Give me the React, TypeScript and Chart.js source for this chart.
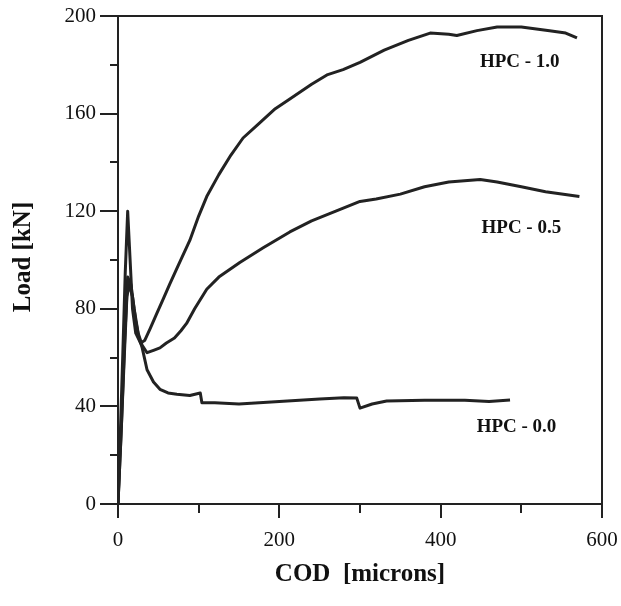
import React, { useEffect, useRef } from "react";
import { Chart, registerables } from "chart.js";

Chart.register(...registerables);

// HPC - 1.0
const cod10 = [0, 3, 6, 9, 12, 15, 18, 22, 28, 33, 40, 48, 56, 64, 75, 89, 100, 110, 125, 140, 155, 175, 195, 213, 240, 260, 279, 300, 330, 360, 387, 410, 420, 445, 470, 500, 535, 555, 569];
const load10 = [0, 30, 62, 95, 120, 100, 80, 70, 66, 67, 72, 78, 84, 90, 98, 108, 118, 126, 135, 143, 150, 156, 162, 166, 172, 176, 178, 181, 186, 190, 193, 192.5, 192, 194, 195.5, 195.5, 194, 193, 191];

// HPC - 0.5
const cod05 = [0, 4, 8, 12, 16, 20, 25, 30, 36, 44, 52, 60, 70, 78, 85, 95, 110, 125, 151, 180, 213, 240, 270, 300, 320, 350, 380, 410, 449, 470, 500, 530, 572];
const load05 = [0, 30, 65, 93, 90, 80, 70, 65, 62, 63, 64, 66, 68, 71, 74, 80, 88, 93, 99, 105, 111.5, 116, 120, 124, 125, 127, 130, 132, 133, 132, 130, 128, 126];

// HPC - 0.0
const cod00 = [0, 4, 8, 11, 14, 18, 22, 26, 30, 36, 44, 52, 62, 73, 89, 102, 104, 120, 150, 200, 250, 280, 296, 300, 315, 333, 380, 430, 460, 486];
const load00 = [0, 30, 62, 85, 90, 85, 75, 68, 64, 55, 50, 47, 45.5, 45, 44.5, 45.5, 41.5, 41.5, 41, 42, 43, 43.5, 43.4, 39.3, 41, 42.2, 42.5, 42.5, 42, 42.6];

const seriesNames = ["HPC - 1.0", "HPC - 0.5", "HPC - 0.0"];
// label anchors (data coords)
const labelX = [498, 500, 494];
const labelY = [181, 113, 31.5];

const yTicks = [0, 20, 40, 60, 80, 100, 120, 140, 160, 180, 200];
const xTicks = [0, 100, 200, 300, 400, 500, 600];

const xTitle = "COD  [microns]";
const yTitle = "Load [kN]";

const INK = "#222222";
const FONT = "'Liberation Serif', 'Times New Roman', serif";

function pts(xs: number[], ys: number[]) {
  return xs.map((x, i) => ({ x, y: ys[i] }));
}

const decorPlugin = {
  id: "decor",
  afterDraw(chart: any) {
    const { ctx, chartArea } = chart;
    const xs = chart.scales.x;
    const ys = chart.scales.y;
    const { left, right, top, bottom } = chartArea;
    ctx.save();
    ctx.strokeStyle = INK;
    ctx.lineWidth = 2;
    ctx.strokeRect(left, top, right - left, bottom - top);
    // ticks
    ctx.beginPath();
    yTicks.forEach((v) => {
      const p = Math.round(ys.getPixelForValue(v));
      const len = v % 40 === 0 ? 18 : 8;
      ctx.moveTo(left - len, p);
      ctx.lineTo(left, p);
    });
    xTicks.forEach((v) => {
      const p = Math.round(xs.getPixelForValue(v));
      const len = v % 200 === 0 ? 14 : 9;
      ctx.moveTo(p, bottom);
      ctx.lineTo(p, bottom + len);
    });
    ctx.stroke();

    // series labels
    ctx.fillStyle = "#111";
    ctx.font = `bold 19px ${FONT}`;
    ctx.textAlign = "center";
    ctx.textBaseline = "middle";
    seriesNames.forEach((n, i) => {
      ctx.fillText(n, xs.getPixelForValue(labelX[i]), ys.getPixelForValue(labelY[i]));
    });

    // axis titles
    ctx.font = `bold 25px ${FONT}`;
    ctx.fillText(xTitle, (left + right) / 2, 575);
    ctx.save();
    ctx.translate(24, (top + bottom) / 2 - 3);
    ctx.rotate(-Math.PI / 2);
    ctx.fillText(yTitle, 0, 0);
    ctx.restore();
    ctx.restore();
  },
};

export default function App() {
  const ref = useRef<HTMLCanvasElement | null>(null);
  useEffect(() => {
    if (!ref.current) return;
    const mk = (label: string, data: any) => ({
      label,
      data,
      borderColor: INK,
      borderWidth: 3,
      pointRadius: 0,
      fill: false,
      tension: 0,
      borderJoinStyle: "round" as const,
    });
    const chart = new Chart(ref.current, {
      type: "line",
      data: {
        datasets: [
          mk(seriesNames[0], pts(cod10, load10)),
          mk(seriesNames[1], pts(cod05, load05)),
          mk(seriesNames[2], pts(cod00, load00)),
        ],
      },
      options: {
        animation: false,
        responsive: true,
        maintainAspectRatio: false,
        layout: { padding: { top: 16, right: 19, left: 0, bottom: 0 } },
        plugins: { legend: { display: false }, tooltip: { enabled: false } },
        scales: {
          x: {
            type: "linear",
            min: 0,
            max: 600,
            grid: { display: false, drawTicks: false },
            border: { display: false },
            ticks: {
              stepSize: 200,
              padding: 24,
              color: "#111",
              maxRotation: 0,
              font: { family: FONT, size: 21 },
            },
            afterFit: (s: any) => {
              s.height = 102;
              s.paddingLeft = 0;
              s.paddingRight = 0;
            },
          },
          y: {
            type: "linear",
            min: 0,
            max: 200,
            grid: { display: false, drawTicks: false },
            border: { display: false },
            ticks: {
              stepSize: 40,
              padding: 22,
              color: "#111",
              font: { family: FONT, size: 21 },
            },
            afterFit: (s: any) => {
              s.width = 118;
              s.paddingTop = 0;
              s.paddingBottom = 0;
            },
          },
        },
      },
      plugins: [decorPlugin],
    });
    return () => chart.destroy();
  }, []);
  return (
    <div style={{ position: "fixed", left: 0, top: 0, width: 621, height: 606, background: "#fff" }}>
      <canvas ref={ref} />
    </div>
  );
}
